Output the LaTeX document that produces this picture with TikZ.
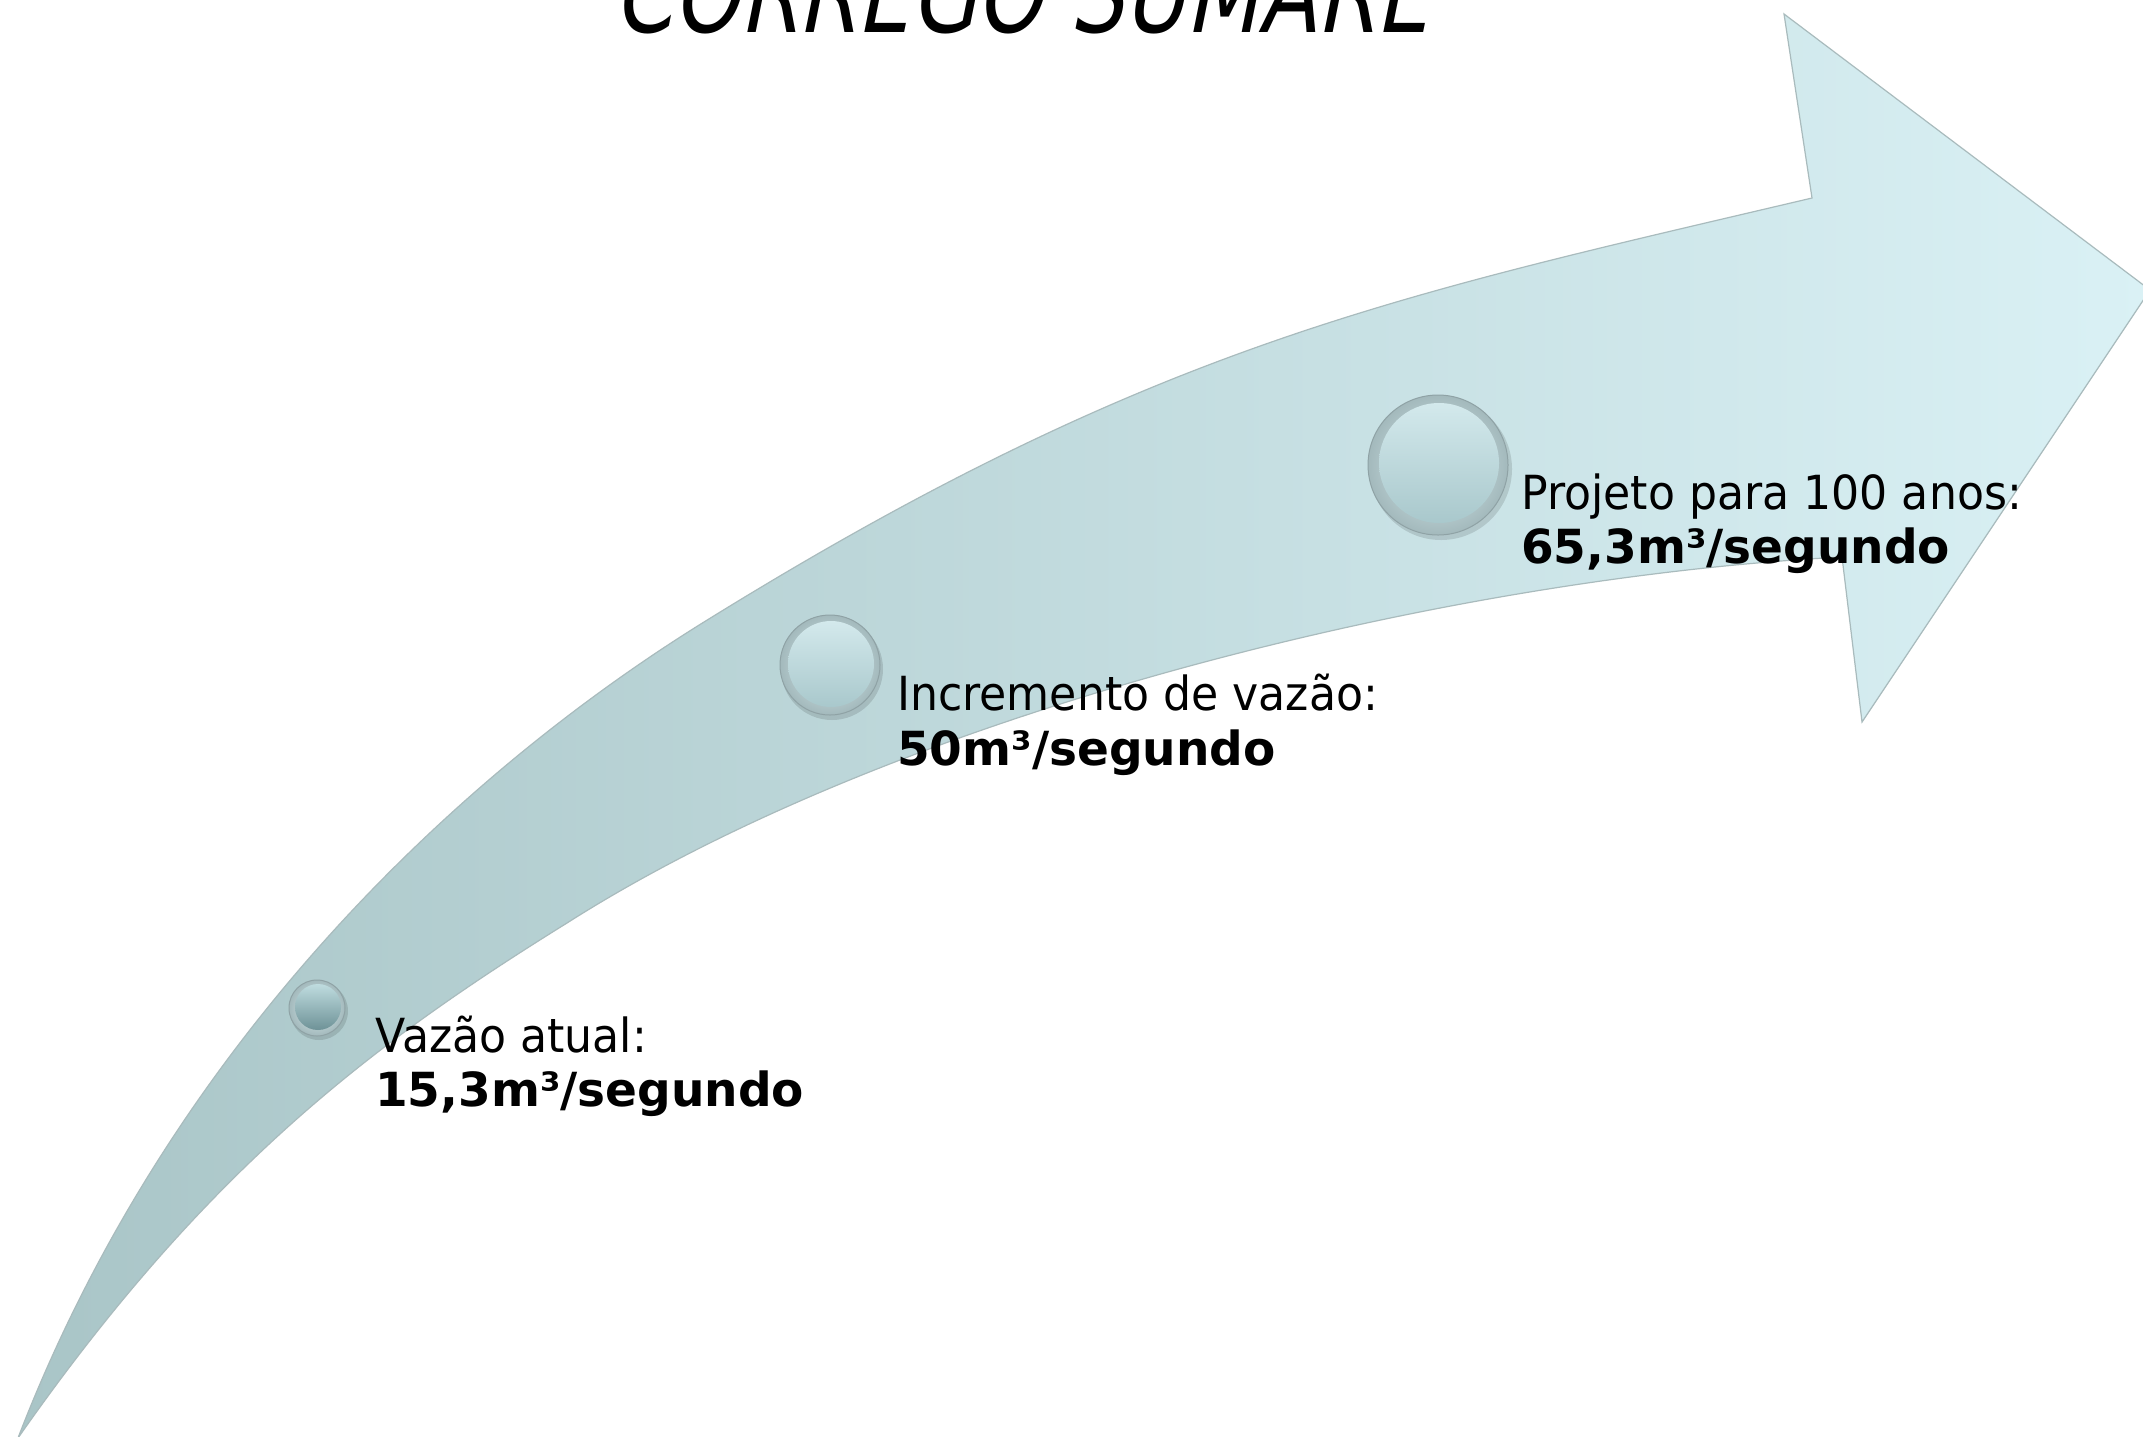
\documentclass[tikz,border=0pt]{standalone}
\usepackage{fontspec}
\setmainfont{DejaVu Sans}
\newfontfamily\regfont[FakeStretch=0.94]{DejaVu Sans}
\newfontfamily\boldtxt{DejaVu Sans}
\newfontfamily\titlefont[FakeStretch=0.77,FakeSlant=0.2]{DejaVu Sans}
\definecolor{arrowL}{HTML}{A9C5C7}
\definecolor{arrowR}{HTML}{DAF1F5}
\definecolor{edgec}{HTML}{A9BBBD}
\definecolor{rimout}{HTML}{A3B9BC}
\definecolor{rimin}{HTML}{DCEFF1}
\definecolor{rimline}{HTML}{8FA2A5}
\definecolor{facetop}{HTML}{D3E9EC}
\definecolor{facebot}{HTML}{A9C8CC}
\definecolor{darkfacetop}{HTML}{BFDCDF}
\definecolor{darkfacebot}{HTML}{6E9297}
\tikzset{
  arrowbody/.style={left color=arrowL, right color=arrowR, draw=edgec, line width=1.2pt},
  btnshadow/.style={circle, inner sep=0pt, fill=black, fill opacity=0.12, draw=none},
  btnrim/.style={circle, inner sep=0pt, draw=rimline, line width=1pt, inner color=rimin, outer color=rimout},
  btnface/.style={circle, inner sep=0pt, draw=none, top color=facetop, bottom color=facebot},
  btnfacedark/.style={circle, inner sep=0pt, draw=none, top color=darkfacetop, bottom color=darkfacebot},
  lbl/.style={anchor=base west, inner sep=0pt, font=\regfont\fontsize{47}{54}\selectfont},
  lblb/.style={anchor=base west, inner sep=0pt, font=\boldtxt\bfseries\fontsize{47}{54}\selectfont},
  titletxt/.style={anchor=base, inner sep=0pt, font=\titlefont\fontsize{110}{120}\selectfont}
}
\begin{document}
\begin{tikzpicture}[x=1pt,y=-1pt]
\useasboundingbox (0,0) rectangle (2143,1436);
\fill[white] (0,0) rectangle (2143,1436);
% arrow outline points
\coordinate (T) at (18,1438);
\coordinate (U2) at (704,622);
\coordinate (N1) at (1812,198);
\coordinate (B1) at (1784,14);
\coordinate (H) at (2150,290);
\coordinate (B2) at (1862,722);
\coordinate (N2) at (1842,557);
\coordinate (M) at (567,923);
\shadedraw[arrowbody]
  (T) .. controls (168,1048) and (454,777) .. (U2)
      .. controls (1154,343) and (1400,295) .. (N1)
  -- (B1) -- (H) -- (B2) -- (N2)
      .. controls (1442,578) and (897,713) .. (M)
      .. controls (377,1041) and (208,1166) .. cycle;
% title
\node[titletxt] (title) at (1021,32) {CÓRREGO SUMARÉ};
% buttons
\node[btnshadow, minimum size=58pt] (b1s) at (319,1011) {};
\node[btnrim, minimum size=56pt] (b1) at (317,1008) {};
\node[btnfacedark, minimum size=46pt] (b1f) at (318,1007) {};
\node[btnshadow, minimum size=102pt] (b2s) at (832,669) {};
\node[btnrim, minimum size=100pt] (b2) at (830,665) {};
\node[btnface, minimum size=86pt] (b2f) at (831,664) {};
\node[btnshadow, minimum size=142pt] (b3s) at (1441,469) {};
\node[btnrim, minimum size=140pt] (b3) at (1438,465) {};
\node[btnface, minimum size=120pt] (b3f) at (1439,463) {};
% labels
\node[lbl] (t1a) at (375,1052) {Vazão atual:};
\node[lblb] (t1b) at (375,1106) {15,3m³/segundo};
\node[lbl] (t2a) at (897,710) {Incremento de vazão:};
\node[lblb] (t2b) at (897,765) {50m³/segundo};
\node[lbl] (t3a) at (1521,509) {Projeto para 100 anos:};
\node[lblb] (t3b) at (1521,563) {65,3m³/segundo};
\end{tikzpicture}
\end{document}
